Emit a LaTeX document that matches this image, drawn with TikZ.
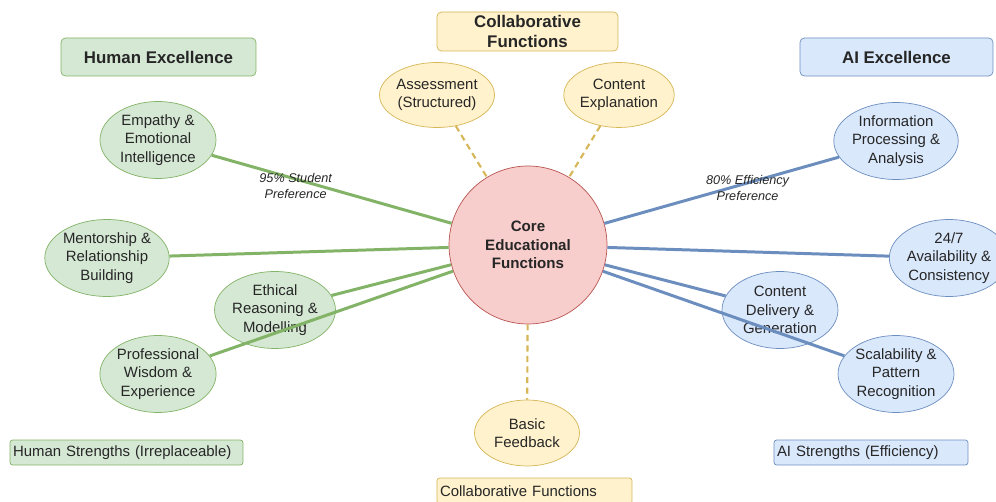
\documentclass[tikz,border=0pt]{standalone}
\usepackage{fontspec}
\setmainfont{Liberation Sans}
\usetikzlibrary{shapes.geometric}

\definecolor{humanfill}{HTML}{D5E8D4}
\definecolor{humanline}{HTML}{82B366}
\definecolor{aifill}{HTML}{DAE8FC}
\definecolor{ailine}{HTML}{6C8EBF}
\definecolor{collabfill}{HTML}{FFF2CC}
\definecolor{collabline}{HTML}{D6B656}
\definecolor{corefill}{HTML}{F8CECC}
\definecolor{coreline}{HTML}{B85450}

\begin{document}
\begin{tikzpicture}[x=0.02cm,y=-0.02cm,
    every node/.style={font=\fontsize{8.5}{10.5}\selectfont, text=black!85},
    skill/.style={ellipse, draw, align=center, inner sep=0pt,
        minimum width=2.32cm, minimum height=1.54cm},
    human/.style={skill, fill=humanfill, draw=humanline},
    ai/.style={skill, fill=aifill, draw=ailine},
    shared/.style={ellipse, draw=collabline, fill=collabfill, align=center,
        inner sep=0pt, minimum width=2.1cm, minimum height=1.3cm},
    header/.style={rectangle, rounded corners=2.5pt, draw, align=center,
        font=\fontsize{9.6}{11}\selectfont\bfseries, inner sep=0pt},
    legend/.style={rectangle, rounded corners=1.5pt, draw, align=left,
        minimum height=0.5cm, inner xsep=0.06cm, inner ysep=0pt},
    humanlink/.style={draw=humanline, line width=1.7pt},
    ailink/.style={draw=ailine, line width=1.7pt},
    sharedlink/.style={draw=collabline, line width=1.2pt, dash pattern=on 3.5pt off 2.5pt},
    linklabel/.style={font=\fontsize{7.2}{8.9}\selectfont\itshape, align=center}]

    \useasboundingbox (0,0) rectangle (996,502);

    % Draw the column headers
    \node[header, fill=humanfill, draw=humanline, minimum width=3.9cm, minimum height=0.76cm] (humanhead) at (158.5,57) {Human Excellence};
    \node[header, fill=collabfill, draw=collabline, minimum width=3.62cm, minimum height=0.78cm] (collabhead) at (527.5,31.5) {Collaborative\\Functions};
    \node[header, fill=aifill, draw=ailine, minimum width=3.86cm, minimum height=0.76cm] (aihead) at (896.5,57) {AI Excellence};

    % Draw the centre circle
    \node[circle, draw=coreline, fill=corefill, minimum size=3.16cm, align=center,
        font=\fontsize{8.6}{10.6}\selectfont\bfseries] (core) at (528,245) {Core\\Educational\\Functions};

    % Draw the human strengths
    \node[human] (empathy) at (158,140) {Empathy \&\\Emotional\\Intelligence};
    \node[human] (mentor) at (107,258) {Mentorship \&\\Relationship\\Building};
    \node[human] (ethics) at (275,310) {Ethical\\Reasoning \&\\Modelling};
    \node[human] (wisdom) at (158,374) {Professional\\Wisdom \&\\Experience};

    % Draw the AI strengths
    \node[ai] (info) at (896,141) {Information\\Processing \&\\Analysis};
    \node[ai] (always) at (949,258) {24/7\\Availability \&\\Consistency};
    \node[ai] (delivery) at (780,310) {Content\\Delivery \&\\Generation};
    \node[ai] (scale) at (896,374) {Scalability \&\\Pattern\\Recognition};

    % Draw the shared functions
    \node[shared] (assess) at (437,95) {Assessment\\(Structured)};
    \node[shared] (explain) at (619,95) {Content\\Explanation};
    \node[shared, minimum height=1.32cm] (feedback) at (527,433) {Basic\\Feedback};

    % Draw the legend boxes
    \node[legend, fill=humanfill, draw=humanline, text width=4.54cm] (humankey) at (126.5,452.5) {Human Strengths (Irreplaceable)};
    \node[legend, fill=aifill, draw=ailine, text width=3.76cm] (aikey) at (871,452.5) {AI Strengths (Efficiency)};
    \node[legend, fill=collabfill, draw=collabline, text width=3.78cm, minimum height=0.52cm] (collabkey) at (534.5,491) {Collaborative Functions};

    % Draw the links to the centre
    \draw[humanlink] (empathy) -- node[linklabel, pos=0.35, yshift=-4pt] {95\% Student\\Preference} (core);
    \draw[humanlink] (mentor) -- (core);
    \draw[humanlink] (ethics) -- (core);
    \draw[humanlink] (wisdom) -- (core);
    \draw[ailink] (core) -- node[linklabel, pos=0.61, yshift=-3pt] {80\% Efficiency\\Preference} (info);
    \draw[ailink] (core) -- (always);
    \draw[ailink] (core) -- (delivery);
    \draw[ailink] (core) -- (scale);
    \draw[sharedlink] (assess) -- (core);
    \draw[sharedlink] (explain) -- (core);
    \draw[sharedlink] (core) -- (feedback);
\end{tikzpicture}
\end{document}
